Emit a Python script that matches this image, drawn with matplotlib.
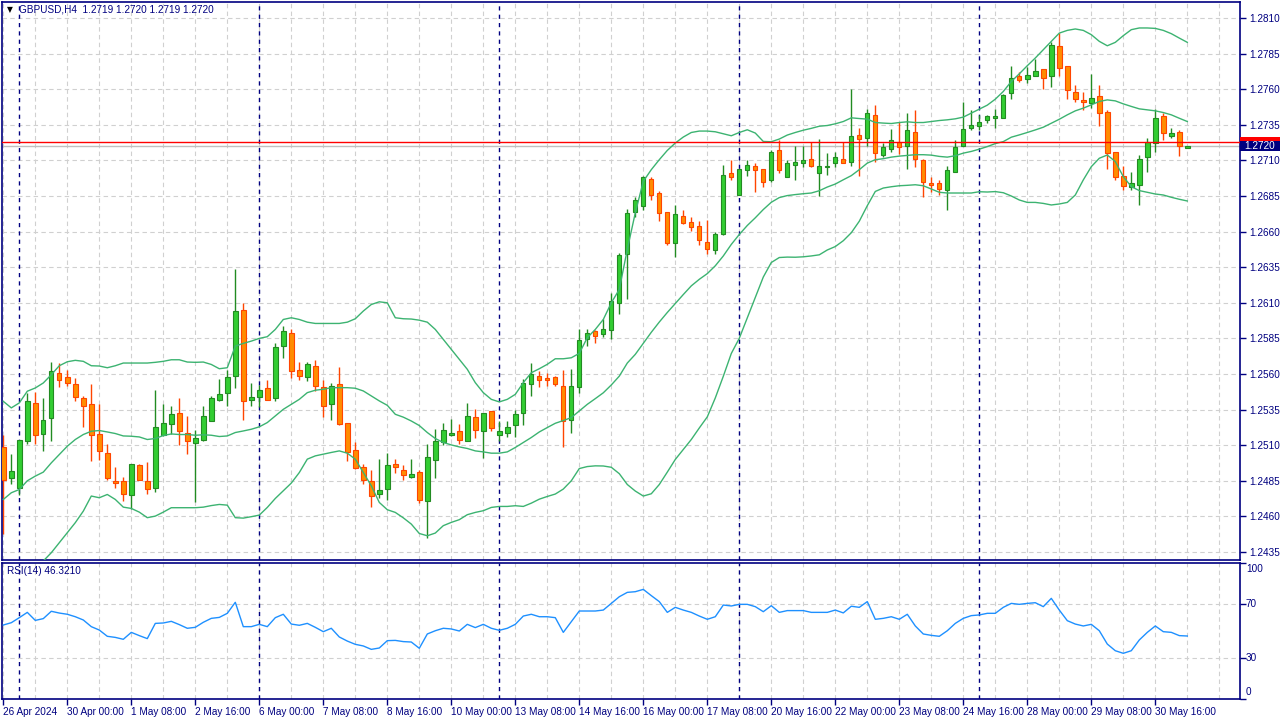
import matplotlib
matplotlib.use("Agg")
import matplotlib.pyplot as plt
from matplotlib.patches import Rectangle
from matplotlib.transforms import blended_transform_factory

# GBPUSD H4, 26 Apr 2024 16:00 .. 31 May 2024 08:00 (one entry per bar)
opens = [1.25088, 1.24869, 1.24799, 1.25128, 1.25397, 1.25177, 1.25289, 1.25607, 1.25579, 1.25530,
         1.25432, 1.25390, 1.25179, 1.25046, 1.24850, 1.24850, 1.24752, 1.24962, 1.24850, 1.24799,
         1.25170, 1.25250, 1.25327, 1.25186, 1.25116, 1.25140, 1.25271, 1.25418, 1.25469, 1.25586,
         1.26051, 1.25420, 1.25441, 1.25504, 1.25434, 1.25796, 1.25890, 1.25630, 1.25581, 1.25658,
         1.25511, 1.25392, 1.25532, 1.25259, 1.25063, 1.24950, 1.24852, 1.24754, 1.24789, 1.24971,
         1.24929, 1.24880, 1.24911, 1.24710, 1.24997, 1.25119, 1.25175, 1.25203, 1.25133, 1.25301,
         1.25203, 1.25343, 1.25175, 1.25189, 1.25245, 1.25329, 1.25532, 1.25588, 1.25574, 1.25581,
         1.25518, 1.25280, 1.25511, 1.25848, 1.25901, 1.25883, 1.25911, 1.26099, 1.26442, 1.26738,
         1.26778, 1.26969, 1.26871, 1.26738, 1.26521, 1.26710, 1.26668, 1.26640, 1.26528, 1.26472,
         1.26586, 1.27011, 1.26855, 1.27030, 1.27060, 1.27039, 1.26960, 1.27172, 1.26983, 1.27067,
         1.27081, 1.27109, 1.27011, 1.27053, 1.27081, 1.27109, 1.27088, 1.27278, 1.27257, 1.27418,
         1.27137, 1.27179, 1.27229, 1.27198, 1.27299, 1.27105, 1.26941, 1.26941, 1.26894, 1.27018,
         1.27198, 1.27327, 1.27343, 1.27383, 1.27397, 1.27396, 1.27572, 1.27694, 1.27671, 1.27694,
         1.27742, 1.27690, 1.27906, 1.27765, 1.27582, 1.27526, 1.27503, 1.27552, 1.27440, 1.27159,
         1.26988, 1.26913, 1.26927, 1.27123, 1.27222, 1.27411, 1.27269, 1.27299, 1.27190]
highs = [1.25175, 1.25035, 1.25140, 1.25467, 1.25471, 1.25432, 1.25682, 1.25677, 1.25630, 1.25572,
         1.25448, 1.25532, 1.25392, 1.25109, 1.24950, 1.24880, 1.24969, 1.24971, 1.24979, 1.25490,
         1.25392, 1.25378, 1.25432, 1.25308, 1.25205, 1.25378, 1.25446, 1.25563, 1.25626, 1.26334,
         1.26098, 1.25535, 1.25521, 1.25556, 1.25815, 1.25936, 1.25913, 1.25682, 1.25682, 1.25696,
         1.25558, 1.25535, 1.25649, 1.25259, 1.25121, 1.24967, 1.24925, 1.25002, 1.25044, 1.25002,
         1.24960, 1.25002, 1.24925, 1.25107, 1.25212, 1.25254, 1.25282, 1.25247, 1.25399, 1.25352,
         1.25329, 1.25343, 1.25273, 1.25273, 1.25345, 1.25563, 1.25675, 1.25623, 1.25609, 1.25588,
         1.25628, 1.25633, 1.25918, 1.25913, 1.25908, 1.25988, 1.26170, 1.26450, 1.26759, 1.26841,
         1.26993, 1.26981, 1.26883, 1.26738, 1.26789, 1.26754, 1.26703, 1.26672, 1.26684, 1.26600,
         1.27070, 1.27105, 1.27039, 1.27105, 1.27081, 1.27039, 1.27170, 1.27240, 1.27100, 1.27198,
         1.27198, 1.27226, 1.27250, 1.27151, 1.27156, 1.27226, 1.27600, 1.27327, 1.27460, 1.27490,
         1.27221, 1.27320, 1.27371, 1.27436, 1.27455, 1.27112, 1.26983, 1.26960, 1.27063, 1.27240,
         1.27507, 1.27455, 1.27420, 1.27422, 1.27462, 1.27565, 1.27765, 1.27718, 1.27753, 1.27812,
         1.27742, 1.27931, 1.27992, 1.27765, 1.27632, 1.27580, 1.27704, 1.27629, 1.27456, 1.27159,
         1.27058, 1.27018, 1.27140, 1.27257, 1.27463, 1.27433, 1.27330, 1.27315, 1.27200]
lows = [1.24479, 1.24831, 1.24747, 1.25105, 1.25105, 1.25058, 1.25128, 1.25507, 1.25514, 1.25408,
        1.25226, 1.24991, 1.24995, 1.24855, 1.24799, 1.24707, 1.24649, 1.24857, 1.24759, 1.24771,
        1.25163, 1.25179, 1.25100, 1.25035, 1.24700, 1.25128, 1.25271, 1.25411, 1.25376, 1.25502,
        1.25278, 1.25376, 1.25369, 1.25420, 1.25411, 1.25712, 1.25572, 1.25558, 1.25551, 1.25481,
        1.25299, 1.25275, 1.25243, 1.24990, 1.24936, 1.24827, 1.24663, 1.24729, 1.24717, 1.24908,
        1.24857, 1.24871, 1.24691, 1.24446, 1.24869, 1.25102, 1.25165, 1.25109, 1.25133, 1.25154,
        1.25011, 1.25200, 1.25130, 1.25161, 1.25161, 1.25243, 1.25446, 1.25509, 1.25516, 1.25516,
        1.25084, 1.25189, 1.25469, 1.25796, 1.25820, 1.25859, 1.25843, 1.26019, 1.26124, 1.26703,
        1.26754, 1.26820, 1.26677, 1.26509, 1.26420, 1.26651, 1.26602, 1.26509, 1.26441, 1.26441,
        1.26579, 1.26964, 1.26855, 1.26988, 1.26878, 1.26911, 1.26948, 1.27011, 1.26983, 1.26960,
        1.27053, 1.27053, 1.26848, 1.26995, 1.27053, 1.27081, 1.27058, 1.26988, 1.27198, 1.27086,
        1.27123, 1.27156, 1.27147, 1.27039, 1.27053, 1.26843, 1.26876, 1.26859, 1.26750, 1.27018,
        1.27198, 1.27315, 1.27315, 1.27366, 1.27327, 1.27396, 1.27528, 1.27648, 1.27643, 1.27690,
        1.27604, 1.27618, 1.27690, 1.27528, 1.27512, 1.27456, 1.27465, 1.27339, 1.27039, 1.26959,
        1.26889, 1.26894, 1.26789, 1.27016, 1.27156, 1.27245, 1.27255, 1.27133, 1.27190]
closes = [1.24859, 1.24920, 1.25140, 1.25411, 1.25170, 1.25278, 1.25621, 1.25556, 1.25535, 1.25439,
          1.25376, 1.25170, 1.25058, 1.24871, 1.24836, 1.24759, 1.24969, 1.24857, 1.24789, 1.25229,
          1.25257, 1.25320, 1.25200, 1.25130, 1.25151, 1.25306, 1.25434, 1.25462, 1.25581, 1.26044,
          1.25411, 1.25436, 1.25490, 1.25420, 1.25792, 1.25904, 1.25621, 1.25588, 1.25672, 1.25516,
          1.25376, 1.25518, 1.25252, 1.25049, 1.24943, 1.24859, 1.24740, 1.24782, 1.24964, 1.24950,
          1.24892, 1.24901, 1.24717, 1.25014, 1.25133, 1.25210, 1.25189, 1.25140, 1.25308, 1.25210,
          1.25329, 1.25224, 1.25203, 1.25231, 1.25322, 1.25539, 1.25602, 1.25558, 1.25560, 1.25530,
          1.25273, 1.25518, 1.25841, 1.25890, 1.25869, 1.25918, 1.26114, 1.26433, 1.26731, 1.26824,
          1.26983, 1.26857, 1.26731, 1.26523, 1.26724, 1.26658, 1.26633, 1.26544, 1.26479, 1.26584,
          1.26997, 1.26981, 1.27039, 1.27067, 1.27030, 1.26948, 1.27158, 1.27032, 1.27081, 1.27088,
          1.27102, 1.27060, 1.27063, 1.27063, 1.27123, 1.27081, 1.27271, 1.27250, 1.27432, 1.27151,
          1.27193, 1.27243, 1.27193, 1.27313, 1.27109, 1.26948, 1.26927, 1.26899, 1.27035, 1.27193,
          1.27320, 1.27350, 1.27369, 1.27413, 1.27411, 1.27558, 1.27678, 1.27664, 1.27699, 1.27730,
          1.27678, 1.27913, 1.27749, 1.27592, 1.27531, 1.27510, 1.27538, 1.27433, 1.27152, 1.26983,
          1.26917, 1.26941, 1.27109, 1.27226, 1.27397, 1.27292, 1.27292, 1.27198, 1.27200]

# Bollinger Bands (20, 2)
bb_upper = [1.25408, 1.25362, 1.25397, 1.25479, 1.25502, 1.25537, 1.25595, 1.25658, 1.25686, 1.25696,
            1.25689, 1.25658, 1.25656, 1.25644, 1.25658, 1.25677, 1.25677, 1.25677, 1.25677, 1.25682,
            1.25689, 1.25700, 1.25700, 1.25684, 1.25682, 1.25684, 1.25667, 1.25637, 1.25644, 1.25796,
            1.25815, 1.25831, 1.25850, 1.25862, 1.25913, 1.25983, 1.25995, 1.25983, 1.25964, 1.25955,
            1.25955, 1.25955, 1.25955, 1.25964, 1.25988, 1.26042, 1.26088, 1.26107, 1.26100, 1.25995,
            1.25988, 1.25986, 1.25978, 1.25964, 1.25913, 1.25843, 1.25773, 1.25703, 1.25633, 1.25539,
            1.25469, 1.25422, 1.25404, 1.25422, 1.25457, 1.25539, 1.25609, 1.25637, 1.25668, 1.25707,
            1.25707, 1.25714, 1.25745, 1.25855, 1.25913, 1.25983, 1.26100, 1.26194, 1.26475, 1.26732,
            1.26953, 1.27035, 1.27105, 1.27170, 1.27222, 1.27264, 1.27296, 1.27306, 1.27306, 1.27301,
            1.27287, 1.27273, 1.27296, 1.27315, 1.27292, 1.27233, 1.27231, 1.27250, 1.27278, 1.27296,
            1.27312, 1.27325, 1.27340, 1.27345, 1.27357, 1.27373, 1.27399, 1.27394, 1.27390, 1.27366,
            1.27362, 1.27359, 1.27366, 1.27371, 1.27366, 1.27366, 1.27373, 1.27380, 1.27385, 1.27392,
            1.27404, 1.27432, 1.27460, 1.27488, 1.27530, 1.27584, 1.27654, 1.27708, 1.27765, 1.27819,
            1.27877, 1.27936, 1.27994, 1.28013, 1.28023, 1.28013, 1.27983, 1.27936, 1.27905, 1.27929,
            1.27976, 1.28018, 1.28030, 1.28030, 1.28027, 1.28013, 1.27990, 1.27959, 1.27929]
bb_middle = [1.24719, 1.24766, 1.24789, 1.24850, 1.24883, 1.24911, 1.24976, 1.25035, 1.25093, 1.25140,
             1.25175, 1.25198, 1.25203, 1.25193, 1.25182, 1.25165, 1.25163, 1.25158, 1.25140, 1.25147,
             1.25168, 1.25179, 1.25175, 1.25175, 1.25170, 1.25173, 1.25170, 1.25161, 1.25165, 1.25189,
             1.25200, 1.25212, 1.25229, 1.25259, 1.25306, 1.25352, 1.25387, 1.25422, 1.25469, 1.25486,
             1.25493, 1.25504, 1.25504, 1.25504, 1.25500, 1.25481, 1.25446, 1.25411, 1.25380, 1.25317,
             1.25297, 1.25270, 1.25238, 1.25189, 1.25147, 1.25119, 1.25102, 1.25088, 1.25077, 1.25060,
             1.25053, 1.25044, 1.25044, 1.25053, 1.25084, 1.25119, 1.25154, 1.25193, 1.25224, 1.25254,
             1.25273, 1.25294, 1.25341, 1.25387, 1.25427, 1.25468, 1.25523, 1.25585, 1.25677, 1.25738,
             1.25816, 1.25893, 1.25965, 1.26032, 1.26095, 1.26158, 1.26219, 1.26265, 1.26305, 1.26360,
             1.26429, 1.26510, 1.26580, 1.26643, 1.26697, 1.26755, 1.26806, 1.26839, 1.26853, 1.26860,
             1.26866, 1.26871, 1.26887, 1.26913, 1.26934, 1.26964, 1.26993, 1.27035, 1.27081, 1.27105,
             1.27112, 1.27123, 1.27130, 1.27135, 1.27140, 1.27140, 1.27137, 1.27128, 1.27123, 1.27133,
             1.27151, 1.27163, 1.27179, 1.27197, 1.27218, 1.27232, 1.27263, 1.27279, 1.27296, 1.27314,
             1.27333, 1.27361, 1.27389, 1.27420, 1.27448, 1.27467, 1.27490, 1.27514, 1.27525, 1.27518,
             1.27497, 1.27479, 1.27462, 1.27455, 1.27448, 1.27436, 1.27420, 1.27396, 1.27373]
bb_lower = [1.24030, 1.24170, 1.24180, 1.24220, 1.24260, 1.24287, 1.24345, 1.24415, 1.24486, 1.24556,
            1.24637, 1.24743, 1.24731, 1.24754, 1.24719, 1.24665, 1.24656, 1.24630, 1.24591, 1.24602,
            1.24630, 1.24661, 1.24661, 1.24661, 1.24661, 1.24665, 1.24676, 1.24684, 1.24679, 1.24591,
            1.24588, 1.24598, 1.24609, 1.24663, 1.24726, 1.24780, 1.24834, 1.24908, 1.25002, 1.25025,
            1.25037, 1.25049, 1.25060, 1.25044, 1.25002, 1.24908, 1.24815, 1.24698, 1.24647, 1.24628,
            1.24590, 1.24546, 1.24480, 1.24464, 1.24483, 1.24535, 1.24558, 1.24577, 1.24612, 1.24628,
            1.24640, 1.24663, 1.24670, 1.24670, 1.24675, 1.24670, 1.24693, 1.24721, 1.24740, 1.24757,
            1.24792, 1.24850, 1.24936, 1.24950, 1.24955, 1.24954, 1.24945, 1.24900, 1.24824, 1.24778,
            1.24743, 1.24759, 1.24824, 1.24911, 1.25000, 1.25070, 1.25140, 1.25221, 1.25299, 1.25432,
            1.25584, 1.25744, 1.25851, 1.25995, 1.26141, 1.26281, 1.26383, 1.26418, 1.26421, 1.26420,
            1.26423, 1.26429, 1.26437, 1.26471, 1.26495, 1.26536, 1.26592, 1.26673, 1.26782, 1.26882,
            1.26906, 1.26915, 1.26922, 1.26925, 1.26929, 1.26922, 1.26899, 1.26876, 1.26871, 1.26871,
            1.26871, 1.26871, 1.26880, 1.26878, 1.26881, 1.26873, 1.26850, 1.26822, 1.26805, 1.26805,
            1.26798, 1.26787, 1.26794, 1.26805, 1.26857, 1.26963, 1.27056, 1.27115, 1.27138, 1.27092,
            1.26986, 1.26916, 1.26888, 1.26876, 1.26864, 1.26857, 1.26841, 1.26827, 1.26815]

rsi_values = [54.4, 56.1, 59.8, 63.7, 57.8, 59.1, 64.5, 63.2, 62.3, 60.5,
              58.1, 53.2, 50.7, 46.1, 45.3, 43.9, 49.0, 46.6, 44.4, 55.6,
              55.9, 57.1, 54.7, 52.0, 52.7, 56.4, 59.3, 60.0, 63.0, 71.1,
              53.2, 53.2, 54.9, 53.2, 59.8, 62.3, 55.1, 54.2, 55.6, 52.7,
              49.5, 52.0, 45.6, 42.6, 40.2, 39.0, 36.5, 37.5, 42.9, 43.1,
              42.2, 41.9, 37.3, 47.8, 50.2, 52.0, 51.5, 50.0, 54.9, 52.5,
              54.9, 52.0, 50.5, 52.0, 54.9, 61.0, 62.3, 60.5, 60.5, 59.8,
              49.0, 56.9, 64.7, 64.7, 64.7, 65.4, 70.3, 75.2, 78.4, 78.9,
              80.6, 76.0, 71.6, 63.7, 67.4, 65.4, 63.7, 61.0, 58.6, 60.5,
              69.1, 68.4, 69.6, 69.6, 67.9, 64.2, 68.6, 63.7, 65.0, 65.0,
              65.0, 63.7, 63.7, 63.7, 65.4, 63.3, 68.2, 67.4, 71.6, 58.6,
              59.3, 60.5, 58.6, 62.3, 53.7, 47.8, 46.8, 46.1, 50.2, 55.6,
              59.3, 61.3, 61.8, 63.0, 63.0, 67.4, 70.3, 69.6, 70.3, 70.8,
              67.9, 74.0, 65.4, 57.6, 55.1, 53.7, 54.9, 50.2, 40.4, 35.5,
              33.6, 35.5, 43.4, 49.0, 53.7, 49.5, 49.0, 46.6, 46.321]

time_labels = ["26 Apr 2024", "30 Apr 00:00", "1 May 08:00", "2 May 16:00", "6 May 00:00",
               "7 May 08:00", "8 May 16:00", "10 May 00:00", "13 May 08:00", "14 May 16:00",
               "16 May 00:00", "17 May 08:00", "20 May 16:00", "22 May 00:00", "23 May 08:00",
               "24 May 16:00", "28 May 00:00", "29 May 08:00", "30 May 16:00"]
label_every = 8
week_starts = [2, 32, 62, 92, 122]          # Monday 00:00 bars
price_ticks = [1.2435, 1.2460, 1.2485, 1.2510, 1.2535, 1.2560, 1.2585, 1.2610,
               1.2635, 1.2660, 1.2685, 1.2710, 1.2735, 1.2760, 1.2785, 1.2810]
bid, ask = 1.2720, 1.2723
rsi_levels = [30, 70]

NAVY = "#000080"
GRID = "#d0d0d0"
BULL, BULL_EDGE = "#32cd32", "#228b22"
BEAR, BEAR_EDGE = "#ff8c00", "#ff4500"
BAND = "#3cb371"
FONT = "Liberation Sans"

W, H = 1280, 720
fig = plt.figure(figsize=(12.8, 7.2), dpi=100)
fig.patch.set_facecolor("white")


def box(x0, y0, x1, y1):
    # pixel box (top-left origin) -> figure fraction rect
    return [x0 / W, 1 - y1 / H, (x1 - x0) / W, (y1 - y0) / H]


ax = fig.add_axes(box(2, 2, 1239.5, 560))
ax_rsi = fig.add_axes(box(2, 563, 1239.5, 699))

n = len(closes)
xs = list(range(n))
x_left, x_right = (2 - 3.3) / 8, (1239.5 - 3.3) / 8
for a in (ax, ax_rsi):
    a.set_xlim(x_left, x_right)
    for s in a.spines.values():
        s.set_color(NAVY)
        s.set_linewidth(1.2)
    # vertical grid every 4 bars, week separators
    for g in range(0, int(x_right) + 1, 4):
        a.axvline(g, color=GRID, lw=0.8, ls=(0, (4, 3)), zorder=0)
    for w in week_starts:
        a.axvline(w, color=NAVY, lw=1.0, ls=(0, (3, 3)), zorder=1)

# ---- price panel ----
ax.set_ylim(1.2810 - 542 / 14240, 1.2810 + 16 / 14240)
for p in price_ticks:
    ax.axhline(p, color=GRID, lw=0.8, ls=(0, (4, 3)), zorder=0)

up = [c >= o for o, c in zip(opens, closes)]
wick_cols = [BULL_EDGE if u else BEAR_EDGE for u in up]
ax.vlines(xs, lows, highs, colors=wick_cols, lw=1.0, zorder=2)
ax.bar(xs, [abs(c - o) for o, c in zip(opens, closes)], bottom=[min(o, c) for o, c in zip(opens, closes)],
       width=0.55, color=[BULL if u else BEAR for u in up], edgecolor=wick_cols, linewidth=0.8, zorder=3)

for band in (bb_upper, bb_middle, bb_lower):
    ax.plot(xs, band, color=BAND, lw=1.0, zorder=4)

ax.axhline(bid, color="#c0c0c0", lw=1.0, zorder=1)
ax.axhline(ask, color="red", lw=1.0, zorder=5)

ax.yaxis.tick_right()
ax.set_yticks(price_ticks)
ax.set_yticklabels([f"{p:.4f}" for p in price_ticks])
ax.tick_params(axis="y", colors=NAVY, labelcolor=NAVY, length=4, width=1, pad=3, labelsize=7.2)
for lab in ax.get_yticklabels():
    lab.set_fontfamily(FONT)
ax.set_xticks([])

# ask / bid price tags on the right scale (ask tag sits behind the bid tag)
tr = blended_transform_factory(ax.transAxes, ax.transData)
tag_w = 40 / 1237.5
tag_h = 10 / 14240
ax.add_patch(Rectangle((1.0, ask - tag_h / 2), tag_w, tag_h, transform=tr, fc="red", ec="none",
                       clip_on=False, zorder=6))
ax.add_patch(Rectangle((1.0, bid - tag_h / 2), tag_w, tag_h, transform=tr, fc=NAVY, ec="none",
                       clip_on=False, zorder=7))
ax.text(1.0 + 5 / 1237.5, bid, f"{bid:.4f}", transform=tr, ha="left", va="center", fontsize=7.2,
        family=FONT, color="white", clip_on=False, zorder=8)

fig.text(7 / W, 1 - 10 / H, "\u25bc", fontsize=5.5, color="black", va="center", ha="left")
fig.text(19 / W, 1 - 10 / H, f"GBPUSD,H4  {opens[-1]:.4f} {highs[-1]:.4f} {lows[-1]:.4f} {closes[-1]:.4f}",
         fontsize=7.2, family=FONT, color=NAVY, va="center", ha="left")

# ---- RSI panel ----
ax_rsi.set_ylim(0, 100)
for lv in rsi_levels:
    ax_rsi.axhline(lv, color=GRID, lw=0.8, ls=(0, (4, 3)), zorder=0)
ax_rsi.plot(xs, rsi_values, color="#1e90ff", lw=1.0, zorder=3)
fig.text(7 / W, 1 - 571 / H, f"RSI(14) {rsi_values[-1]:.4f}", fontsize=7.2, family=FONT,
         color=NAVY, va="center", ha="left")

ax_rsi.yaxis.tick_right()
ax_rsi.set_yticks([0, 30, 70, 100])
ax_rsi.set_yticklabels([])
ax_rsi.tick_params(axis="y", colors=NAVY, length=4, width=1)
for val, py in zip([100, 70, 30, 0], [569, 604, 658, 692]):
    fig.text(1246 / W, 1 - py / H, str(val), fontsize=7.2, family=FONT, color=NAVY, va="center", ha="left")

tick_bars = list(range(0, label_every * len(time_labels), label_every))
ax_rsi.set_xticks(tick_bars)
ax_rsi.set_xticklabels(time_labels)
ax_rsi.tick_params(axis="x", colors=NAVY, labelcolor=NAVY, length=4, width=1, pad=2, labelsize=7.2)
for lab in ax_rsi.get_xticklabels():
    lab.set_horizontalalignment("left")
    lab.set_fontfamily(FONT)

fig.savefig("out.png", dpi=100, facecolor="white")
